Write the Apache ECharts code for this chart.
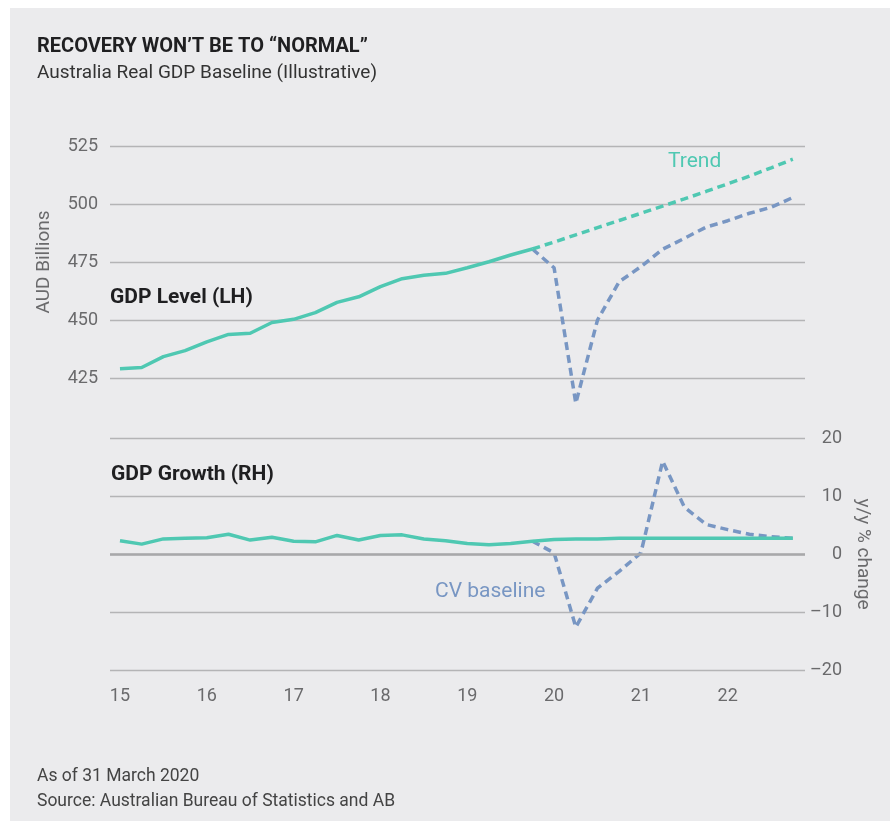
<!DOCTYPE html>
<html>
<head>
<meta charset="utf-8">
<script src="https://cdn.jsdelivr.net/npm/echarts@6/dist/echarts.min.js"></script>
<style>
  html, body { margin: 0; padding: 0; background: #fff; }
  #panel { position: absolute; left: 10px; top: 8px; width: 880px; height: 813px; background: #ebebed; }
  #main { position: absolute; left: 0; top: 0; width: 890px; height: 821px; }
</style>
</head>
<body>
<div id="panel"></div>
<div id="main"></div>
<script>
// quarters as year fractions (15 = Q1 2015)
const histQuarters = [15, 15.25, 15.5, 15.75, 16, 16.25, 16.5, 16.75, 17, 17.25, 17.5, 17.75,
    18, 18.25, 18.5, 18.75, 19, 19.25, 19.5, 19.75];
const fcstQuarters = [19.75, 20, 20.25, 20.5, 20.75, 21, 21.25, 21.5, 21.75, 22, 22.25, 22.5, 22.75];
const yearTicks = [15, 16, 17, 18, 19, 20, 21, 22];

// GDP level, AUD billions
const levelHist = [429, 429.5, 434.2, 436.8, 440.6, 443.8, 444.3, 448.9, 450.3, 453.2, 457.6, 460.0,
    464.4, 467.8, 469.3, 470.1, 472.5, 475.1, 478.0, 480.6];
const levelTrend = [480.6, 483.6, 486.7, 489.8, 492.9, 496.0, 499.1, 502.2, 505.4, 508.7, 512.0, 515.6, 519.3];
const levelCV = [480.6, 472.5, 414.1, 450.0, 466.5, 473.0, 480.5, 485.2, 490.0, 492.8, 496.0, 498.6, 502.8];

// GDP growth, y/y %
const growthBase = [2.3, 1.7, 2.6, 2.7, 2.8, 3.4, 2.4, 2.9, 2.2, 2.1, 3.2, 2.4, 3.2, 3.3, 2.6, 2.3,
    1.8, 1.6, 1.8, 2.2, 2.5, 2.6, 2.6, 2.7, 2.7, 2.7, 2.7, 2.7, 2.7, 2.7, 2.7, 2.7];
const growthCV = [2.2, 0.2, -12.6, -5.9, -3.0, 0.2, 16.0, 8.1, 5.1, 4.2, 3.4, 3.0, 2.7];

const TEAL = '#4fc8b2';
const BLUE = '#7896c3';
const GRID = '#b4b4b6';
const LABEL = '#6a6a6c';
const FONT = 'Roboto';

const allQuarters = histQuarters.concat(fcstQuarters.slice(1));
const pairs = (xs, ys) => xs.map((x, i) => [x, ys[i]]);

const xAxisBase = {
    type: 'value',
    min: 14.885,
    max: 22.89,
    axisLine: { show: false },
    axisTick: { show: false },
    splitLine: { show: false }
};

let myChart = echarts.init(document.getElementById('main'), null, { renderer: 'canvas' });
myChart.setOption({
    backgroundColor: 'transparent',
    animation: false,
    textStyle: { fontFamily: FONT },
    title: [{
        text: 'RECOVERY WON\u2019T BE TO \u201CNORMAL\u201D',
        left: 32, top: 32,
        textStyle: { fontSize: 20, fontWeight: 'bold', color: '#1f1f21', fontFamily: FONT }
    }, {
        text: 'Australia Real GDP Baseline (Illustrative)',
        left: 32, top: 59,
        textStyle: { fontSize: 19, fontWeight: 'normal', color: '#333', fontFamily: FONT }
    }, {
        text: 'As of 31 March 2020\nSource: Australian Bureau of Statistics and AB',
        left: 32, top: 759,
        textStyle: { fontSize: 17.5, fontWeight: 'normal', color: '#444', lineHeight: 25, fontFamily: FONT }
    }],
    grid: [
        { left: 110, top: 146, width: 695, height: 232 },
        { left: 110, top: 438, width: 695, height: 232 }
    ],
    xAxis: [
        Object.assign({ gridIndex: 0, axisLabel: { show: false } }, xAxisBase),
        Object.assign({
            gridIndex: 1,
            axisLabel: {
                show: true,
                customValues: yearTicks,
                color: LABEL, fontSize: 18, margin: 17
            }
        }, xAxisBase)
    ],
    yAxis: [{
        gridIndex: 0,
        type: 'value',
        min: 425, max: 525, interval: 25,
        position: 'left',
        name: 'AUD Billions',
        nameLocation: 'middle',
        nameGap: 56,
        nameTextStyle: { color: LABEL, fontSize: 19 },
        axisLine: { show: false },
        axisTick: { show: false },
        axisLabel: { color: LABEL, fontSize: 18, margin: 12 },
        splitLine: { lineStyle: { color: GRID, width: 1.3 } }
    }, {
        gridIndex: 1,
        type: 'value',
        min: -20, max: 20, interval: 10,
        position: 'right',
        name: 'y/y % change',
        nameLocation: 'middle',
        nameRotate: -90,
        nameGap: 48,
        nameTextStyle: { color: LABEL, fontSize: 19 },
        axisLine: { show: false },
        axisTick: { show: false },
        axisLabel: {
            color: LABEL, fontSize: 18, margin: 37, align: 'right',
            formatter: (v) => String(v).replace('-', '\u2013')
        },
        splitLine: { lineStyle: { color: GRID, width: 1.3 } }
    }],
    graphic: [
        { type: 'text', left: 110, top: 287, style: { text: 'GDP Level (LH)', fontSize: 21, fontWeight: 'bold', fill: '#1f1f21', fontFamily: FONT } },
        { type: 'text', left: 111, top: 464, style: { text: 'GDP Growth (RH)', fontSize: 21, fontWeight: 'bold', fill: '#1f1f21', fontFamily: FONT } },
        { type: 'text', left: 668, top: 151, style: { text: 'Trend', fontSize: 21, fill: TEAL, fontFamily: FONT } },
        { type: 'text', left: 435, top: 581, style: { text: 'CV baseline', fontSize: 21, fill: BLUE, fontFamily: FONT } }
    ],
    series: [{
        name: 'GDP level',
        type: 'line', xAxisIndex: 0, yAxisIndex: 0,
        data: pairs(histQuarters, levelHist),
        symbol: 'none', z: 3,
        lineStyle: { color: TEAL, width: 3.5 }
    }, {
        name: 'Trend',
        type: 'line', xAxisIndex: 0, yAxisIndex: 0,
        data: pairs(fcstQuarters, levelTrend),
        symbol: 'none', z: 3,
        lineStyle: { color: TEAL, width: 3.5, type: [8, 5] }
    }, {
        name: 'CV baseline level',
        type: 'line', xAxisIndex: 0, yAxisIndex: 0,
        data: pairs(fcstQuarters, levelCV),
        symbol: 'none', clip: false, z: 2,
        lineStyle: { color: BLUE, width: 3.5, type: [8, 5] }
    }, {
        name: 'Zero',
        type: 'line', xAxisIndex: 1, yAxisIndex: 1,
        data: [],
        markLine: {
            silent: true, symbol: 'none', label: { show: false },
            lineStyle: { color: '#a8a8aa', width: 2.5, type: 'solid' },
            data: [{ yAxis: 0 }]
        }
    }, {
        name: 'GDP growth',
        type: 'line', xAxisIndex: 1, yAxisIndex: 1,
        data: pairs(allQuarters, growthBase),
        symbol: 'none', z: 3,
        lineStyle: { color: TEAL, width: 3.5 }
    }, {
        name: 'CV baseline growth',
        type: 'line', xAxisIndex: 1, yAxisIndex: 1,
        data: pairs(fcstQuarters, growthCV),
        symbol: 'none', z: 2,
        lineStyle: { color: BLUE, width: 3.5, type: [8, 5] }
    }]
});
</script>
</body>
</html>
